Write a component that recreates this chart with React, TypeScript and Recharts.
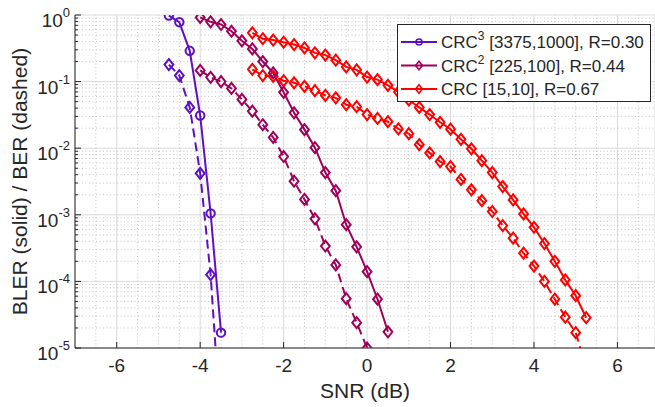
import { LineChart, Line, XAxis, YAxis, CartesianGrid, ReferenceLine } from "recharts";

const FONT = "'Liberation Sans', Arial, Helvetica, sans-serif";
const INK = "#262626";
const PURPLE = "#5E10C4";
const MAROON = "#A0005A";
const RED = "#FF0000";

// ---------------------------------------------------------------------------
// Data
// ---------------------------------------------------------------------------

const crc3Snr = [-4.75, -4.5, -4.25, -4, -3.75, -3.5];
const crc3Bler = [0.98, 0.78, 0.29, 0.031, 1.05e-3, 1.7e-5];
const crc3Ber = [0.18, 0.123, 0.041, 4.2e-3, 1.26e-4, 6e-7];

const crc2SnrBler = [
  -4, -3.75, -3.5, -3.25, -3, -2.75, -2.5, -2.25, -2, -1.75, -1.5, -1.25, -1, -0.75, -0.5, -0.25, 0,
  0.25, 0.5,
];
const crc2Bler = [
  0.92, 0.79, 0.72, 0.57, 0.41, 0.31, 0.2, 0.135, 0.069, 0.034, 0.019, 0.0102, 4.3e-3, 2.3e-3,
  7.1e-4, 3.3e-4, 1.4e-4, 5.4e-5, 1.75e-5,
];
const crc2SnrBer = [
  -4, -3.75, -3.5, -3.25, -3, -2.75, -2.5, -2.25, -2, -1.75, -1.5, -1.25, -1, -0.75, -0.5, -0.25, 0,
];
const crc2Ber = [
  0.147, 0.116, 0.1, 0.079, 0.054, 0.036, 0.0225, 0.0145, 7.5e-3, 3.2e-3, 1.7e-3, 8.7e-4, 3.4e-4,
  1.77e-4, 5.5e-5, 2.4e-5, 1.0e-5,
];

const crc1Snr = [
  -2.75, -2.5, -2.25, -2, -1.75, -1.5, -1.25, -1, -0.75, -0.5, -0.25, 0, 0.25, 0.5, 0.75, 1, 1.25,
  1.5, 1.75, 2, 2.25, 2.5, 2.75, 3, 3.25, 3.5, 3.75, 4, 4.25, 4.5, 4.75, 5, 5.25,
];
const crc1Bler = [
  0.54, 0.44, 0.42, 0.39, 0.36, 0.32, 0.27, 0.25, 0.21, 0.166, 0.15, 0.117, 0.107, 0.088, 0.07,
  0.053, 0.041, 0.032, 0.0245, 0.0193, 0.0136, 9.8e-3, 6.5e-3, 4.3e-3, 2.65e-3, 1.67e-3, 1.03e-3,
  6.5e-4, 3.7e-4, 2.0e-4, 1.05e-4, 6.1e-5, 2.85e-5,
];
const crc1Ber = [
  0.153, 0.123, 0.12, 0.103, 0.096, 0.085, 0.073, 0.062, 0.057, 0.045, 0.042, 0.032, 0.028, 0.025,
  0.0195, 0.0165, 0.0113, 8.5e-3, 6.3e-3, 5.3e-3, 3.4e-3, 2.37e-3, 1.63e-3, 1.12e-3, 6.9e-4,
  4.45e-4, 2.65e-4, 1.7e-4, 1.0e-4, 5.4e-5, 2.9e-5, 1.7e-5, 5e-6,
];

const xTicks = [-6, -4, -2, 0, 2, 4, 6];
const yTicks = [1e-5, 1e-4, 1e-3, 1e-2, 1e-1, 1];

const legendItems = [
  { base: "CRC", sup: "3", rest: " [3375,1000], R=0.30", color: PURPLE, marker: "circle" },
  { base: "CRC", sup: "2", rest: " [225,100], R=0.44", color: MAROON, marker: "diamond" },
  { base: "CRC", sup: "", rest: " [15,10], R=0.67", color: RED, marker: "diamond" },
];

// ---------------------------------------------------------------------------
// Helpers
// ---------------------------------------------------------------------------

const X_MIN = -7;
const X_MAX = 6.9;
const Y_MIN = 1e-5;

const toPoints = (xs: number[], ys: number[]) => xs.map((x, i) => ({ x, y: ys[i] }));

// minor decade lines 2..9 x 10^k
const minorY: number[] = [];
for (let k = -5; k < 0; k++) {
  for (let m = 2; m <= 9; m++) minorY.push(m * Math.pow(10, k));
}
const minorX: number[] = [];
for (let i = -13; i <= 13; i++) {
  if (i % 4 !== 0) minorX.push(i / 2);
}

function markerPath(shape: string, cx: number, cy: number, s: number) {
  if (shape === "circle") {
    return `M${cx - s},${cy}a${s},${s} 0 1,0 ${2 * s},0a${s},${s} 0 1,0 ${-2 * s},0`;
  }
  const h = s * 1.25;
  return `M${cx},${cy - h}L${cx + s},${cy}L${cx},${cy + h}L${cx - s},${cy}Z`;
}

function makeDot(shape: string, color: string) {
  return (props: any) => {
    const { cx, cy, payload, index } = props;
    if (cx == null || cy == null || payload.y < Y_MIN * 0.99) return <g key={index} />;
    return (
      <path
        key={index}
        d={markerPath(shape, cx, cy, shape === "circle" ? 4.2 : 4.4)}
        fill="none"
        stroke={color}
        strokeWidth={2}
      />
    );
  };
}

function YTick(props: any) {
  const { x, y, payload } = props;
  const exp = Math.round(Math.log10(payload.value));
  return (
    <text x={x} y={y + 12} textAnchor="end" fill={INK} fontSize={19} fontFamily={FONT}>
      10
      <tspan dy={-10} fontSize={13}>
        {exp}
      </tspan>
    </text>
  );
}

function LegendBox() {
  return (
    <svg
      width={254}
      height={78}
      style={{ position: "absolute", left: 396.5, top: 23.5, overflow: "visible" }}
    >
      <rect x={0.5} y={0.5} width={253} height={77} fill="#fff" stroke={INK} strokeWidth={1} />
      {legendItems.map((it, i) => {
        const cy = 18 + i * 23.5;
        return (
          <g key={i}>
            <line x1={4} x2={40} y1={cy} y2={cy} stroke={it.color} strokeWidth={2} />
            <path d={markerPath(it.marker, 22, cy, it.marker === "circle" ? 3 : 3.4)} fill="none" stroke={it.color} strokeWidth={1.6} />
            <text x={44} y={cy + 6} fill={INK} fontSize={17} fontFamily={FONT}>
              {it.base}
              {it.sup ? (
                <tspan dy={-8} fontSize={12}>
                  {it.sup}
                </tspan>
              ) : null}
              {it.sup ? <tspan dy={8}>{it.rest}</tspan> : <tspan>{it.rest}</tspan>}
            </text>
          </g>
        );
      })}
    </svg>
  );
}

// ---------------------------------------------------------------------------
// Chart
// ---------------------------------------------------------------------------

export default function App() {
  const tickLen = 6 / 41.7;
  return (
    <div
      style={{
        position: "absolute",
        left: 0,
        top: 0,
        width: 655,
        height: 407,
        background: "#fff",
        overflow: "hidden",
      }}
    >
      <LineChart width={655} height={407} margin={{ top: 15, right: 0, bottom: 0, left: 0 }}>
        <CartesianGrid stroke="#dadada" strokeWidth={1} />
        {minorY.map((v) => (
          <ReferenceLine key={`my${v}`} y={v} stroke="#c4c4c4" strokeDasharray="1 2.5" strokeWidth={1} />
        ))}
        {minorX.map((v) => (
          <ReferenceLine key={`mx${v}`} x={v} stroke="#c4c4c4" strokeDasharray="1 2.5" strokeWidth={1} />
        ))}
        <XAxis
          type="number"
          dataKey="x"
          domain={[X_MIN, X_MAX]}
          ticks={xTicks}
          allowDataOverflow
          height={59}
          tickLine={false}
          tickSize={0}
          tickMargin={11}
          axisLine={{ stroke: INK, strokeWidth: 1 }}
          tick={{ fill: INK, fontSize: 19, fontFamily: FONT }}
          label={{ value: "SNR (dB)", position: "insideBottom", offset: 9, fill: INK, fontSize: 21, fontFamily: FONT }}
        />
        <YAxis
          type="number"
          dataKey="y"
          scale="log"
          domain={[Y_MIN, 1]}
          ticks={yTicks}
          allowDataOverflow
          width={75}
          tickLine={false}
          tickSize={0}
          tickMargin={5}
          axisLine={{ stroke: INK, strokeWidth: 1 }}
          tick={<YTick />}
          label={{
            value: "BLER (solid) / BER (dashed)",
            angle: -90,
            position: "insideLeft",
            offset: 20,
            fill: INK,
            fontSize: 21,
            fontFamily: FONT,
            style: { textAnchor: "middle" },
          }}
        />
        {/* inward tick marks */}
        {xTicks.map((t) => (
          <ReferenceLine
            key={`xt${t}`}
            segment={[{ x: t, y: Y_MIN }, { x: t, y: Y_MIN * Math.pow(10, 6 / 66.5) }]}
            stroke={INK}
            strokeWidth={1}
          />
        ))}
        {yTicks.map((t) => (
          <ReferenceLine
            key={`yt${t}`}
            segment={[{ x: X_MIN, y: t }, { x: X_MIN + tickLen, y: t }]}
            stroke={INK}
            strokeWidth={1}
          />
        ))}
        {minorY.map((t) => (
          <ReferenceLine
            key={`ymt${t}`}
            segment={[{ x: X_MIN, y: t }, { x: X_MIN + tickLen / 2, y: t }]}
            stroke={INK}
            strokeWidth={1}
          />
        ))}

        <Line data={toPoints(crc1Snr, crc1Bler)} dataKey="y" stroke={RED} strokeWidth={2} dot={makeDot("diamond", RED)} isAnimationActive={false} />
        <Line data={toPoints(crc1Snr, crc1Ber)} dataKey="y" stroke={RED} strokeWidth={2} strokeDasharray="9 5" dot={makeDot("diamond", RED)} isAnimationActive={false} />
        <Line data={toPoints(crc2SnrBler, crc2Bler)} dataKey="y" stroke={MAROON} strokeWidth={2} dot={makeDot("diamond", MAROON)} isAnimationActive={false} />
        <Line data={toPoints(crc2SnrBer, crc2Ber)} dataKey="y" stroke={MAROON} strokeWidth={2} strokeDasharray="9 5" dot={makeDot("diamond", MAROON)} isAnimationActive={false} />
        <Line data={toPoints(crc3Snr, crc3Bler)} dataKey="y" stroke={PURPLE} strokeWidth={2} dot={makeDot("circle", PURPLE)} isAnimationActive={false} />
        <Line data={toPoints(crc3Snr, crc3Ber)} dataKey="y" stroke={PURPLE} strokeWidth={2} strokeDasharray="9 5" dot={makeDot("diamond", PURPLE)} isAnimationActive={false} />
      </LineChart>
      <LegendBox />
    </div>
  );
}
